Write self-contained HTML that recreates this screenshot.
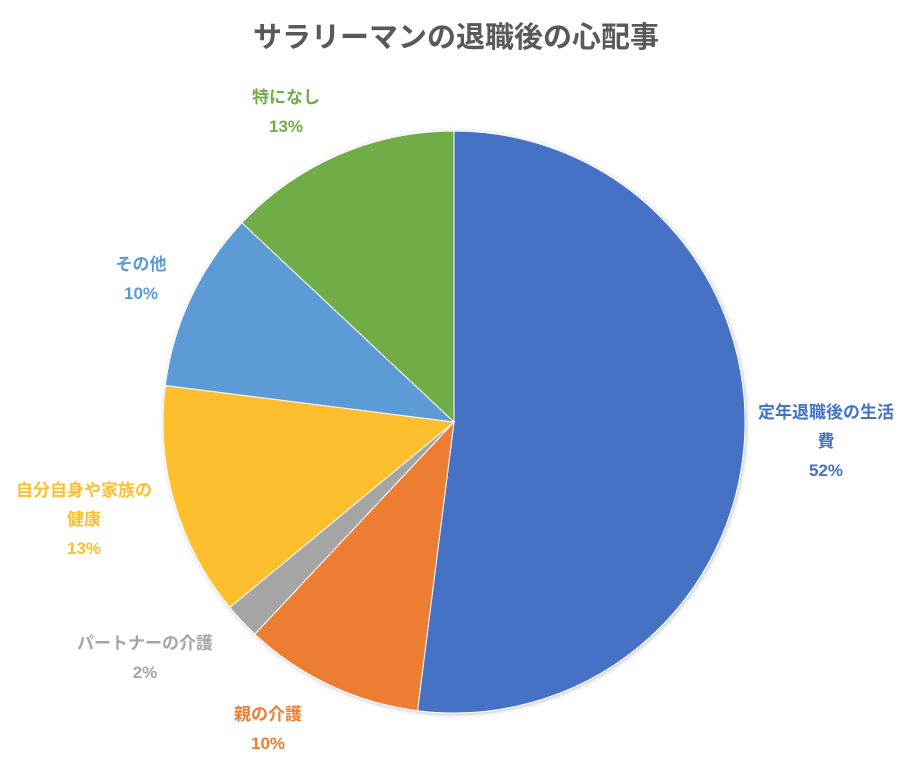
<!DOCTYPE html>
<html><head><meta charset="utf-8"><style>
html,body{margin:0;padding:0;background:#fff;}
svg{display:block;font-family:"Liberation Sans","Noto Sans CJK JP",sans-serif;}
</style></head><body>
<svg id="chart" width="912" height="778" viewBox="0 0 912 778">
<defs><filter id="sh" x="-10%" y="-10%" width="120%" height="120%"><feDropShadow dx="1" dy="1" stdDeviation="2" flood-color="#000" flood-opacity="0.25"/></filter></defs>
<text x="456" y="47" text-anchor="middle" font-size="29" font-weight="bold" fill="#595959">サラリーマンの退職後の心配事</text>
<g id="slices" filter="url(#sh)"></g>
<g id="labels"></g>
</svg>
<script>
const categories = ["定年退職後の生活費","親の介護","パートナーの介護","自分自身や家族の健康","その他","特になし"];
const values = [52,10,2,13,10,13];
const colors = ["#4472c4","#ed7d31","#a5a5a5","#fdbf2d","#5b9bd5","#70ad47"];
const labelLines = [["定年退職後の生活","費"],["親の介護"],["パートナーの介護"],["自分自身や家族の","健康"],["その他"],["特になし"]];
const labelPos = [[826,418],[268,720],[145,649],[84,496],[141,270],[286,103]];
const cx=454, cy=422, r=291;
const total = values.reduce((a,b)=>a+b,0);
const ns="http://www.w3.org/2000/svg";
const gS=document.getElementById('slices'), gL=document.getElementById('labels');
function pt(a){return [cx+r*Math.sin(a), cy-r*Math.cos(a)];}
let acc=0;
values.forEach((v,i)=>{
  const a0=acc/total*2*Math.PI; acc+=v; const a1=acc/total*2*Math.PI;
  const p0=pt(a0), p1=pt(a1);
  const large=(a1-a0)>Math.PI?1:0;
  const p=document.createElementNS(ns,'path');
  p.setAttribute('d',`M${cx},${cy} L${p0[0]},${p0[1]} A${r},${r} 0 ${large} 1 ${p1[0]},${p1[1]} Z`);
  p.setAttribute('fill',colors[i]);
  p.setAttribute('stroke','#fff');
  p.setAttribute('stroke-width','1');
  
  
  gS.appendChild(p);
  const lines=labelLines[i].concat([Math.round(v/total*100)+'%']);
  const [lx,ly]=labelPos[i];
  lines.forEach((s,j)=>{
    const t=document.createElementNS(ns,'text');
    t.setAttribute('x',lx);
    t.setAttribute('y',ly+j*29);
    t.setAttribute('text-anchor','middle');
    t.setAttribute('font-size','17');
    t.setAttribute('font-weight','bold');
    t.setAttribute('fill',colors[i]);
    
    
    t.textContent=s;
    gL.appendChild(t);
  });
});
</script>
</body></html>
